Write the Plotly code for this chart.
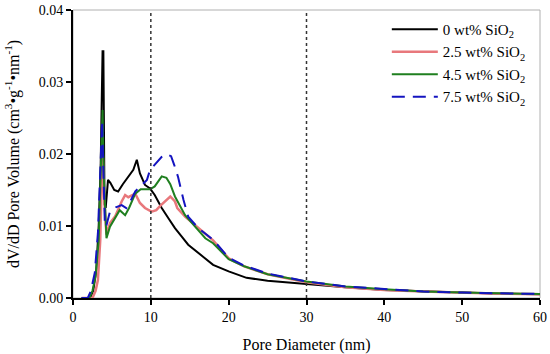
import plotly.graph_objects as go

# ---- data ----
x_0 = [1.1, 2.2, 2.6, 3.0, 3.3, 3.55, 3.7, 3.8, 3.85, 3.9, 4.05, 4.2, 4.5, 4.8, 5.3, 5.8, 6.4, 7.1, 7.75, 8.2, 8.6, 9.25, 9.9, 10.5, 11.4, 12.3, 13.1, 14.0, 14.8, 16.75, 18.0, 20.0, 22.3, 25, 29.2, 35, 40, 45, 50, 55, 60]
y_0 = [0, 0, 0.001, 0.004, 0.010, 0.018, 0.028, 0.0344, 0.029, 0.0344, 0.013, 0.0125, 0.0164, 0.0160, 0.0150, 0.0148, 0.0158, 0.0168, 0.0178, 0.0192, 0.0173, 0.0157, 0.0152, 0.0143, 0.0125, 0.0110, 0.0097, 0.0085, 0.0074, 0.0057, 0.0046, 0.0037, 0.0028, 0.0024, 0.0020, 0.0015, 0.0011, 0.0009, 0.0007, 0.0006, 0.00052]

x_25 = [1.1, 2.5, 2.9, 3.2, 3.5, 3.8, 4.0, 4.3, 4.75, 5.4, 6.25, 6.7, 7.1, 7.5, 8.0, 8.6, 9.25, 10.1, 10.7, 11.2, 11.8, 12.5, 13.1, 13.4, 14.4, 15.7, 17.0, 18.0, 20.0, 22, 25, 30, 35, 40, 45, 50, 55, 60]
y_25 = [0, 0, 0.001, 0.0025, 0.008, 0.021, 0.014, 0.0088, 0.0104, 0.0113, 0.0134, 0.0143, 0.0140, 0.0142, 0.0145, 0.0132, 0.0125, 0.0120, 0.0122, 0.0128, 0.0134, 0.0141, 0.0134, 0.0125, 0.0113, 0.0101, 0.0088, 0.0080, 0.0055, 0.0044, 0.0033, 0.0022, 0.0015, 0.0011, 0.0009, 0.0007, 0.0006, 0.00052]

x_45 = [1.1, 2.1, 2.5, 2.9, 3.3, 3.55, 3.8, 3.95, 4.3, 4.75, 5.3, 6.0, 6.7, 7.2, 8.0, 8.7, 9.9, 10.5, 11.4, 12.0, 12.5, 13.1, 14.4, 16.3, 17.0, 18.0, 20.0, 22, 25, 30, 35, 40, 45, 50, 55, 60]
y_45 = [0, 0, 0.001, 0.003, 0.008, 0.016, 0.0261, 0.017, 0.0083, 0.0099, 0.0110, 0.0122, 0.0115, 0.0125, 0.0145, 0.0151, 0.0151, 0.0155, 0.0169, 0.0167, 0.0158, 0.0141, 0.0115, 0.0092, 0.0083, 0.0076, 0.0054, 0.0044, 0.0033, 0.0023, 0.0016, 0.0012, 0.0009, 0.00075, 0.00062, 0.00055]

x_75 = [1.1, 1.9, 2.3, 2.8, 3.2, 3.5, 3.75, 3.9, 4.1, 4.3, 4.75, 5.5, 6.25, 6.85, 7.4, 8.0, 8.7, 9.5, 9.9, 10.75, 11.4, 12.0, 12.6, 13.0, 13.5, 14.2, 14.8, 16.1, 17.0, 18.0, 20.0, 22, 25, 30, 35, 40, 45, 50, 55, 60]
y_75 = [0, 0, 0.001, 0.0035, 0.009, 0.017, 0.0247, 0.018, 0.0099, 0.0101, 0.012, 0.0126, 0.0129, 0.0125, 0.0135, 0.0148, 0.0155, 0.0164, 0.0178, 0.0189, 0.0196, 0.0200, 0.0197, 0.0185, 0.0168, 0.0136, 0.0113, 0.0097, 0.0090, 0.0081, 0.0056, 0.0045, 0.0034, 0.0023, 0.0016, 0.0012, 0.0009, 0.00075, 0.00063, 0.00056]

names = ["0 wt% SiO<sub>2</sub>", "2.5 wt% SiO<sub>2</sub>", "4.5 wt% SiO<sub>2</sub>", "7.5 wt% SiO<sub>2</sub>"]
ref_lines = [10, 30]
x_ticks = [0, 10, 20, 30, 40, 50, 60]
y_ticks = [0.00, 0.01, 0.02, 0.03, 0.04]

FONT = "Liberation Serif, Times New Roman, Times, serif"

fig = go.Figure()
series = [
    (x_0, y_0, "black", 2, "solid"),
    (x_25, y_25, "#e8787c", 2.5, "solid"),
    (x_45, y_45, "#1f7f1f", 2, "solid"),
    (x_75, y_75, "#1414c0", 2, "13px,8px"),
]
for (xs, ys, c, w, d), n in zip(series, names):
    fig.add_trace(go.Scatter(x=xs, y=ys, mode="lines", name=n,
                             line=dict(color=c, width=w, dash=d)))

shapes = [dict(type="rect", xref="paper", yref="paper", x0=0, x1=1, y0=0, y1=1,
               line=dict(color="#b0b0b0", width=1), layer="below")]
for xv in ref_lines:
    shapes.append(dict(type="line", xref="x", yref="y", x0=xv, x1=xv, y0=0, y1=0.04,
                       line=dict(color="#333333", width=1.5, dash="dot")))

fig.update_layout(
    width=550, height=354,
    margin=dict(l=73, r=10, t=10, b=56, autoexpand=False),
    paper_bgcolor="white", plot_bgcolor="white",
    font=dict(family=FONT, size=13, color="black"),
    shapes=shapes,
    showlegend=True,
    legend=dict(x=0.672, y=0.99, xanchor="left", yanchor="top",
                font=dict(family=FONT, size=15), itemwidth=46,
                bgcolor="rgba(0,0,0,0)", tracegroupgap=0),
    xaxis=dict(range=[0, 60], tickvals=x_ticks, ticks="outside", ticklen=5,
               tickwidth=1.5, tickcolor="black", showline=True, linecolor="black",
               linewidth=2, showgrid=False, zeroline=False, automargin=False,
               title=dict(text="Pore Diameter (nm)", font=dict(family=FONT, size=16)),
               tickfont=dict(family=FONT, size=14)),
    yaxis=dict(range=[0, 0.04], tickvals=y_ticks, tickformat=".2f", ticks="outside",
               ticklen=5, tickwidth=1.5, tickcolor="black", showline=True,
               linecolor="black", linewidth=2, showgrid=False, zeroline=False,
               automargin=False,
               title=dict(text="dV/dD Pore Volume (cm<sup>3</sup>•g<sup>-1</sup>•nm<sup>-1</sup>)",
                          font=dict(family=FONT, size=16)),
               tickfont=dict(family=FONT, size=14)),
)

fig.write_html("out.html", config={"displayModeBar": False},
               post_script="document.body.style.margin='0';")
